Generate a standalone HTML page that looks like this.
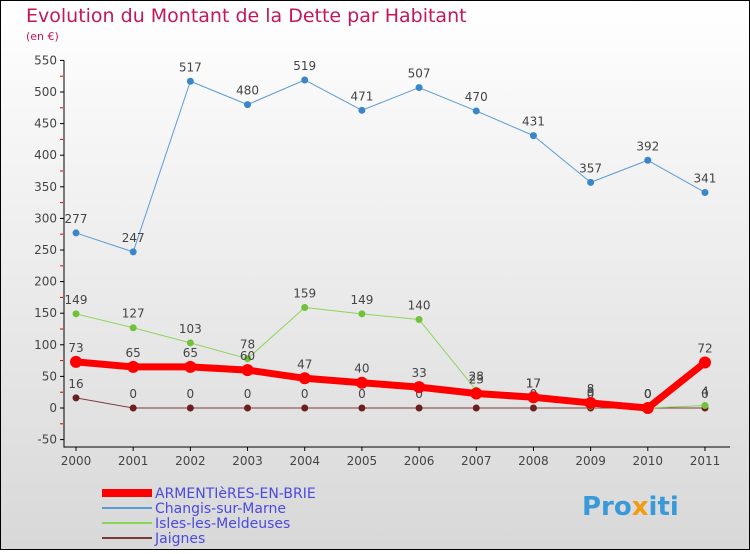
<!DOCTYPE html>
<html><head><meta charset="utf-8"><style>
html,body{margin:0;padding:0}
body{width:750px;height:550px;overflow:hidden;font-family:"DejaVu Sans","Liberation Sans",sans-serif}
</style></head><body>
<svg width="750" height="550" xmlns="http://www.w3.org/2000/svg">
<defs><linearGradient id="bg" x1="0" y1="0" x2="0" y2="1"><stop offset="0" stop-color="#ffffff"/><stop offset="1" stop-color="#d8d8d8"/></linearGradient></defs>
<rect x="0.5" y="0.5" width="749" height="549" fill="url(#bg)" stroke="#000"/>
<text x="26" y="22" font-size="19" fill="#c2185b">Evolution du Montant de la Dette par Habitant</text>
<text x="26" y="40" font-size="11" fill="#c2185b">(en €)</text>
<g id="axes"></g><g id="series"></g><g id="legend"></g>
<text x="582" y="515" font-size="26" font-weight="bold" fill="#3a9ad9">Pro<tspan fill="#f39c12">x</tspan>iti</text>
</svg>
<script>
const years=[2000,2001,2002,2003,2004,2005,2006,2007,2008,2009,2010,2011];
const yTicks=[-50,0,50,100,150,200,250,300,350,400,450,500,550];
const armentieres=[73,65,65,60,47,40,33,23,17,8,0,72];
const changis=[277,247,517,480,519,471,507,470,431,357,392,341];
const isles=[149,127,103,78,159,149,140,28,17,3,0,4];
const jaignes=[16,0,0,0,0,0,0,0,0,0,0,0];
const NS="http://www.w3.org/2000/svg";
const X=i=>76+i*57.18, Y=v=>408-v*0.632;
function mk(tag,at,parent){const e=document.createElementNS(NS,tag);for(const k in at)e.setAttribute(k,at[k]);parent.appendChild(e);return e;}
const ax=document.getElementById('axes');
let e=mk('line',{x1:64,y1:Y(550),x2:64,y2:Y(-50)+8,stroke:'#000'},ax);


e=mk('line',{x1:64,y1:447,x2:730,y2:447,stroke:'#000'},ax);


yTicks.forEach(v=>{
  mk('line',{x1:60,y1:Y(v),x2:64,y2:Y(v),stroke:'#000'},ax);
  if(v<550)mk('line',{x1:60,y1:Y(v+25),x2:63,y2:Y(v+25),stroke:'#d00'},ax);
  const t=mk('text',{x:57,y:Y(v)+4,'font-size':12,fill:'#444','text-anchor':'end'},ax);t.textContent=v;
  
  
});
years.forEach((y,i)=>{
  mk('line',{x1:X(i),y1:447,x2:X(i),y2:451,stroke:'#000'},ax);
  const t=mk('text',{x:X(i),y:465,'font-size':12,fill:'#444','text-anchor':'middle'},ax);t.textContent=y;
  
  
});
const sg=document.getElementById('series');
function series(data,color,w,r,name,labels,mcol){
  const g=mk('g',{},sg);
  
  
  mk('polyline',{points:data.map((v,i)=>X(i)+','+Y(v)).join(' '),fill:'none',stroke:color,'stroke-width':w,'stroke-linejoin':'round'},g);
  data.forEach((v,i)=>{
    const c=mk('circle',{cx:X(i),cy:Y(v),r:r,fill:mcol||color},g);
    
    
    if(labels){const t=mk('text',{x:X(i),y:Y(v)-10,'font-size':12,fill:'#444','text-anchor':'middle'},g);t.textContent=v;}
  });
}
series(jaignes,'#7b3a3a',1,3.5,'series-jaignes',true,'#6b2020');
series(isles,'#8fd45a',1,3.5,'series-isles',true,'#6fc23a');
series(changis,'#5b9bd5',1,3.5,'series-changis',true,'#3a86c8');
series(armentieres,'#ff0000',7,6,'series-armentieres',true,'#ff0000');
const lg=document.getElementById('legend');
const items=[['ARMENTIèRES-EN-BRIE','#ff0000',8],['Changis-sur-Marne','#5b9bd5',2],['Isles-les-Meldeuses','#8fd45a',2],['Jaignes','#7b3a3a',2]];
items.forEach((it,i)=>{
  const y=493+i*15;
  const g=mk('g',{},lg);
  
  
  mk('line',{x1:102,y1:y,x2:152,y2:y,stroke:it[1],'stroke-width':it[2]},g);
  const t=mk('text',{x:155,y:y+5,'font-size':14,fill:'#4a4ae0'},g);t.textContent=it[0];
});
</script>
</body></html>
